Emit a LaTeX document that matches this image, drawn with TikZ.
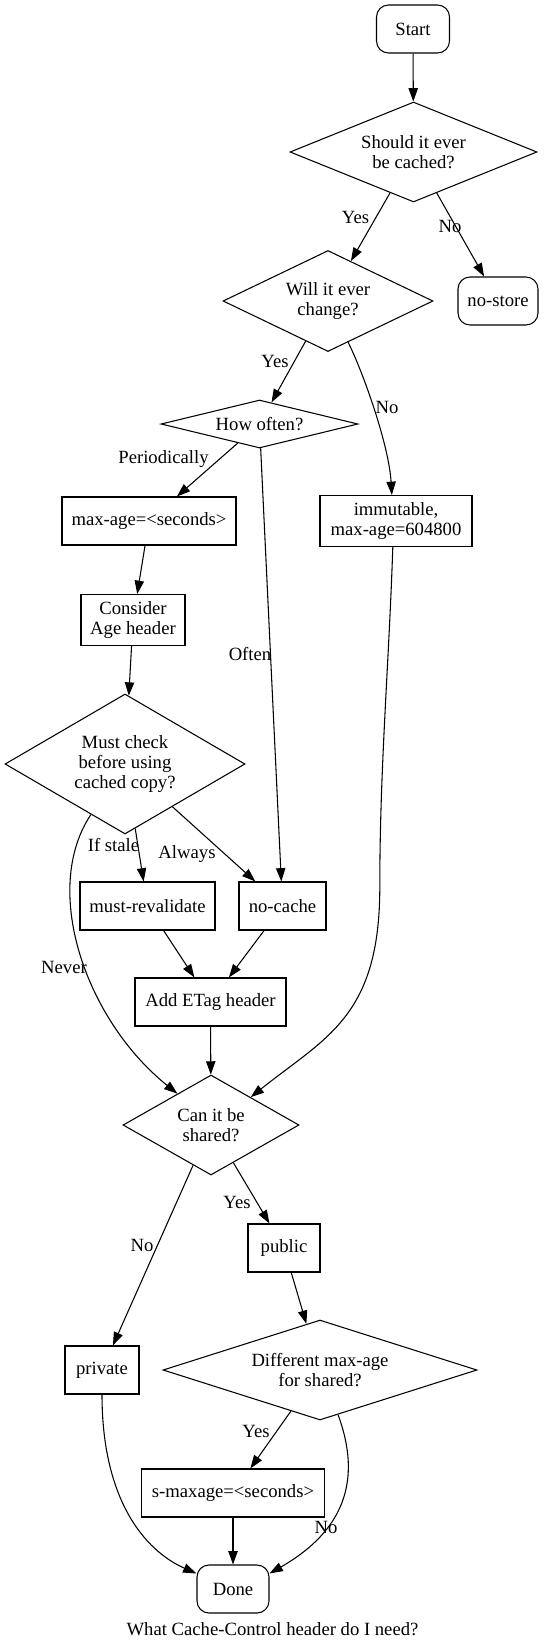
\documentclass[tikz,border=0pt]{standalone}
\usepackage{fontspec}
\setmainfont{Liberation Serif}
\usetikzlibrary{arrows.meta,shapes.geometric}

\begin{document}
\begin{tikzpicture}[
    x=0.75pt, y=-0.75pt,
    every node/.style={font=\fontsize{14}{15.3}\selectfont, align=center, inner sep=0pt},
    decision/.style={draw, diamond, line width=0.8pt},
    action/.style={draw, rectangle, line width=0.8pt},
    terminal/.style={draw, rectangle, rounded corners=9pt, line width=0.8pt},
    lbl/.style={},
    arrow/.style={-{Triangle[length=10pt,width=7pt]}, line width=0.8pt}
]
    \path[use as bounding box, fill=white] (0,0) rectangle (545,1649);

    % Main blocks
    \node[terminal, minimum width=54.75pt, minimum height=36pt] (start) at (413,29) {Start};
    \node[decision, minimum width=185.25pt, minimum height=75pt, aspect=2.47] (cached) at (413.5,152) {Should it ever\\be cached?};
    \node[decision, minimum width=157.5pt, minimum height=75.75pt, aspect=2.08] (change) at (328,301) {Will it ever\\change?};
    \node[terminal, minimum width=60pt, minimum height=36pt] (nostore) at (498,301) {no-store};
    \node[decision, minimum width=147.75pt, minimum height=36pt, aspect=4.1] (often) at (259.5,424) {How often?};
    \node[action, minimum width=130.5pt, minimum height=36pt] (maxage) at (149,521) {max-age=<seconds>};
    \node[action, minimum width=114pt, minimum height=38.25pt] (immutable) at (396,521) {immutable,\\max-age=604800};
    \node[action, minimum width=78pt, minimum height=38.25pt] (agehdr) at (133,620) {Consider\\Age header};
    \node[decision, minimum width=180pt, minimum height=105pt, aspect=1.71] (check) at (125,764) {Must check\\before using\\cached copy?};
    \node[action, minimum width=101.25pt, minimum height=36pt] (revalidate) at (147.5,906) {must-revalidate};
    \node[action, minimum width=65.25pt, minimum height=36pt] (nocache) at (282.5,906) {no-cache};
    \node[action, minimum width=113.25pt, minimum height=36pt] (etag) at (210.5,1002) {Add ETag header};
    \node[decision, minimum width=132pt, minimum height=75pt, aspect=1.76] (shared) at (211,1125) {Can it be\\shared?};
    \node[action, minimum width=54pt, minimum height=36pt] (public) at (284,1248) {public};
    \node[action, minimum width=55.5pt, minimum height=36pt] (private) at (102,1370) {private};
    \node[decision, minimum width=235.5pt, minimum height=75pt, aspect=3.14] (sharedage) at (320,1370) {Different max-age\\for shared?};
    \node[action, minimum width=137.25pt, minimum height=36pt] (smaxage) at (233,1493) {s-maxage=<seconds>};
    \node[terminal, minimum width=54pt, minimum height=36pt] (done) at (233,1589) {Done};

    % Edges
    \draw[arrow] (start) -- (cached);
    \draw[arrow] (cached) -- (change);
    \draw[arrow] (cached) -- (nostore);
    \draw[arrow] (change) -- (often);
    \draw[arrow] (change.-64) .. controls +(15,30) and +(-3,-50) .. (immutable.99);
    \draw[arrow] (often) -- (maxage);
    \draw[arrow] (often) -- (nocache);
    \draw[arrow] (maxage) -- (agehdr);
    \draw[arrow] (agehdr) -- (check);
    \draw[arrow] (check) -- (revalidate);
    \draw[arrow] (check) -- (nocache);
    \draw[arrow] (check.-124) .. controls +(-50,75) and +(-92,-74) .. (shared.137);
    \draw[arrow] (revalidate) -- (etag);
    \draw[arrow] (nocache) -- (etag);
    \draw[arrow] (etag) -- (shared);
    \draw[arrow] (immutable.-97) .. controls +(-4,120) and +(0,-120) .. ++(-13,340)
        .. controls +(0,130) and +(75,-60) .. (shared.35);
    \draw[arrow] (shared) -- (public);
    \draw[arrow] (shared) -- (private);
    \draw[arrow] (public) -- (sharedage);
    \draw[arrow] (sharedage) -- (smaxage);
    \draw[arrow] (sharedage.-68) .. controls +(24,65) and +(75,-43) .. (done.23);
    \draw[arrow] (private.south) .. controls +(0,105) and +(-52,-23) .. (done.157);
    \draw[arrow] (smaxage) -- (done);

    % Edge labels
    \node[lbl] (cachedyes) at (355.5,217) {Yes};
    \node[lbl] (cachedno) at (450,226) {No};
    \node[lbl] (changeyes) at (275,361) {Yes};
    \node[lbl] (changeno) at (387,407) {No};
    \node[lbl] (periodic) at (163.5,459) {Periodically};
    \node[lbl] (oftenlbl) at (250,654) {Often};
    \node[lbl] (ifstale) at (113.5,845) {If stale};
    \node[lbl] (always) at (187,854) {Always};
    \node[lbl] (never) at (64,967) {Never};
    \node[lbl] (sharedyes) at (237,1202) {Yes};
    \node[lbl] (sharedno) at (142,1245) {No};
    \node[lbl] (ageyes) at (256,1431) {Yes};
    \node[lbl] (ageno) at (326,1527) {No};

    % Caption
    \node (title) at (272.5,1629) {What Cache-Control header do I need?};
\end{tikzpicture}
\end{document}
